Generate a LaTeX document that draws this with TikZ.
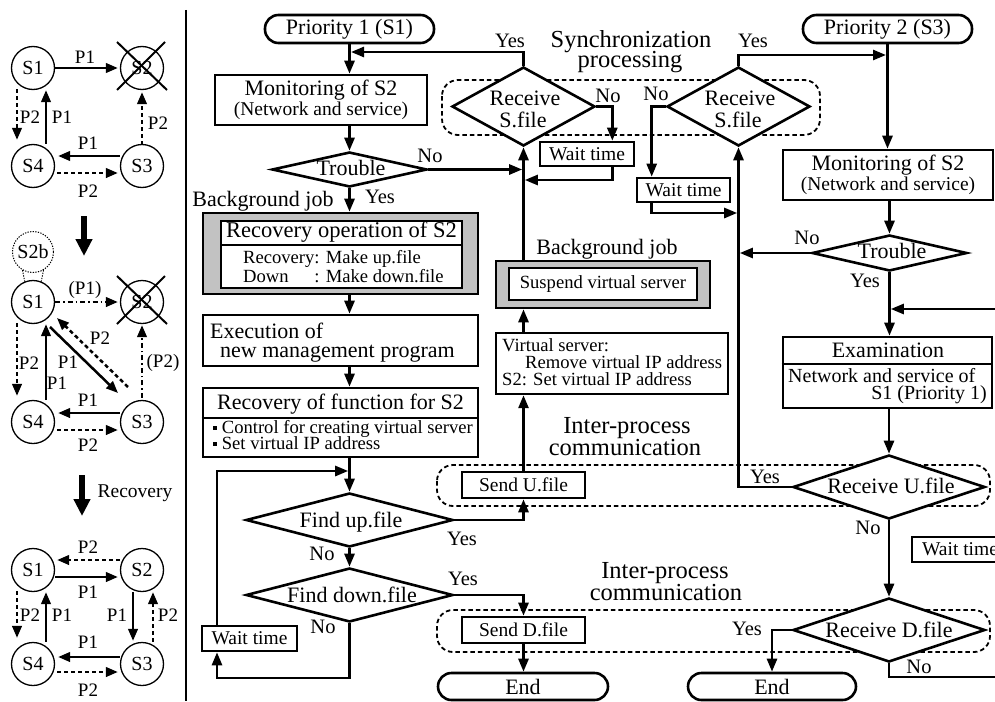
\documentclass[tikz,border=0pt]{standalone}
\usepackage{fontspec}
\setmainfont{Liberation Serif}
\usetikzlibrary{arrows.meta,shapes.geometric,calc}
\newcommand\fbig{\fontsize{22}{22}\selectfont}
\newcommand\fmid{\fontsize{19.5}{20}\selectfont}
\newcommand\fsml{\fontsize{18.6}{19}\selectfont}
\newcommand\fhead{\fontsize{24.5}{24}\selectfont}
\newcommand\fnet{\fontsize{20}{20}\selectfont}
\newcommand\fyn{\fontsize{20.5}{20}\selectfont}
\newcommand\sqbullet{\raisebox{3.5pt}{\rule{4pt}{4pt}}}
\begin{document}
\begin{tikzpicture}[x=1pt,y=-1pt,line join=miter,
  flow/.style={line width=2.6pt},
  arr/.style={flow,-{Triangle[length=13pt,width=10pt]}},
  tj/.style={arr,shorten >=1.3pt},
  box/.style={draw,line width=2.6pt,fill=white,inner sep=0pt},
  term/.style={box,rounded corners=13.5pt},
  decision/.style={diamond,draw,line width=2.6pt,fill=white,inner sep=0pt},
  jobframe/.style={box,fill=black!24},
  divider/.style={line width=1.4pt},
  group/.style={draw,line width=1.8pt,dash pattern=on 4.5pt off 3pt,rounded corners=16pt},
  ln/.style={anchor=base,inner sep=0pt},
  lnw/.style={anchor=base west,inner sep=0pt},
  lne/.style={anchor=base east,inner sep=0pt},
  snode/.style={circle,draw,line width=1.3pt,minimum size=43pt,inner sep=0pt,font=\fontsize{20}{20}\selectfont},
  parr/.style={line width=2.5pt,-{Triangle[length=12pt,width=9.5pt]}},
  pdash/.style={parr,dash pattern=on 4pt off 3pt},
  pdot/.style={parr,dash pattern=on 5pt off 3pt on 1.5pt off 3pt},
  plab/.style={inner sep=0pt,font=\fontsize{19}{19}\selectfont},
  bigarr/.style={line width=5.5pt,-{Triangle[length=17pt,width=16pt]}},
  cross/.style={line width=2pt},
]
\useasboundingbox (0,0) rectangle (995,701);
\clip (0,0) rectangle (995,701);

% ---------------- left panel: server states ----------------
\draw[line width=2.4pt] (186,10) -- (186,701);

% normal state, S2 down
\node[snode] (a1) at (33,68) {S1};
\node[snode] (a2) at (142,68) {S2};
\node[snode] (a3) at (142,166) {S3};
\node[snode] (a4) at (33,166) {S4};
\draw[cross] ($(a2)+(-25,-26)$) -- ($(a2)+(25,22)$);
\draw[cross] ($(a2)+(-25,22)$) -- ($(a2)+(23,-26)$);
\draw[parr,shorten >=2pt] (a1.east) -- (a2.west);
\node[plab] (a12) at (85,57) {P1};
\draw[pdash] ($(a1.south)+(-16,-1)$) -- ($(a4.north)+(-16,-4)$);
\node[plab] (a14) at (30,117) {P2};
\draw[parr] ($(a4.north)+(13,0)$) -- ($(a1.south)+(13,0)$);
\node[plab] (a41) at (62,117) {P1};
\draw[parr] ($(a3.west)+(0,-10)$) -- ($(a4.east)+(3,-10)$);
\node[plab] (a34) at (88,143) {P1};
\draw[pdash] ($(a4.east)+(2,7)$) -- ($(a3.west)+(-2,7)$);
\node[plab] (a43) at (88,191) {P2};
\draw[pdash] ($(a3.north)+(0,1)$) -- ($(a2.south)+(0,2)$);
\node[plab] (a32) at (158,123) {P2};

\draw[bigarr] (84,216) -- (84,256);

% S1 takes over with background job S2b
\node[snode,line width=1pt,dash pattern=on 1.3pt off 1.3pt,minimum size=41pt] (b0) at (33,252) {S2b};
\node[snode] (b1) at (33,302) {S1};
\node[snode] (b2) at (142,302) {S2};
\node[snode] (b3) at (142,422) {S3};
\node[snode] (b4) at (33,422) {S4};
\draw[line width=1pt,dash pattern=on 1.3pt off 1.3pt] (b0.240) -- (b1.112);
\draw[line width=1pt,dash pattern=on 1.3pt off 1.3pt] (b0.300) -- (b1.68);
\draw[cross] ($(b2)+(-25,-26)$) -- ($(b2)+(25,22)$);
\draw[cross] ($(b2)+(-25,22)$) -- ($(b2)+(23,-26)$);
\draw[pdot,shorten >=2pt] (b1.east) -- (b2.west);
\node[plab] (b12) at (85,290) {(P1)};
\draw[pdash] ($(b1.south)+(-16,-1)$) -- ($(b4.north)+(-16,-4)$);
\node[plab] (b14) at (29,363) {P2};
\draw[parr] ($(b4.north)+(13,0)$) -- ($(b1.south)+(13,0)$);
\node[plab] (b41) at (57,383) {P1};
\draw[parr] ($(b1)+(17,25)$) -- ($(b3)+(-24,-29)$);
\node[plab] (b13) at (68,362) {P1};
\draw[pdash] ($(b3)+(-14,-35)$) -- ($(b1)+(24,16)$);
\node[plab] (b31) at (100,338) {P2};
\draw[parr] ($(b3.west)+(0,-9)$) -- ($(b4.east)+(3,-9)$);
\node[plab] (b34) at (88,400) {P1};
\draw[pdash] ($(b4.east)+(2,8)$) -- ($(b3.west)+(-2,8)$);
\node[plab] (b43) at (88,445) {P2};
\draw[pdot] ($(b3.north)+(0,-2)$) -- ($(b2.south)+(0,1)$);
\node[plab] (b32) at (163,363) {(P2)};

\draw[bigarr] (82,475) -- (82,516);
\node[ln,font=\fontsize{19.5}{20}\selectfont] (rectxt) at (135,497) {Recovery};

% after recovery
\node[snode] (c1) at (33,570) {S1};
\node[snode] (c2) at (142,570) {S2};
\node[snode] (c3) at (142,664) {S3};
\node[snode] (c4) at (33,664) {S4};
\draw[pdash] ($(c2.west)+(0,-10)$) -- ($(c1.east)+(2,-10)$);
\node[plab] (c21) at (88,547) {P2};
\draw[parr] ($(c1.east)+(0,7)$) -- ($(c2.west)+(-2,7)$);
\node[plab] (c12) at (88,592) {P1};
\draw[pdash] ($(c1.south)+(-16,-1)$) -- ($(c4.north)+(-16,-4)$);
\node[plab] (c14) at (30,615) {P2};
\draw[parr] ($(c4.north)+(13,0)$) -- ($(c1.south)+(13,0)$);
\node[plab] (c41) at (62,615) {P1};
\draw[parr] ($(c2.south)+(-9,0)$) -- ($(c3.north)+(-9,-1)$);
\node[plab] (c23) at (117,615) {P1};
\draw[pdash] ($(c3.north)+(11,0)$) -- ($(c2.south)+(11,0)$);
\node[plab] (c32) at (168,615) {P2};
\draw[parr] ($(c3.west)+(0,-7)$) -- ($(c4.east)+(3,-7)$);
\node[plab] (c34) at (88,642) {P1};
\draw[pdash] ($(c4.east)+(2,8)$) -- ($(c3.west)+(-2,8)$);
\node[plab] (c43) at (88,690) {P2};

% ---------------- flowchart ----------------
\draw[group] (442,80) rectangle (820,135);
\draw[group] (437,465) rectangle (990,506);
\draw[group] (437,610) rectangle (990,652);

% Priority 1 side
\node[term,minimum width=169pt,minimum height=28pt,font=\fbig] (p1) at (349.5,29) {Priority 1 (S1)};
\node[box,minimum width=212pt,minimum height=50pt] (m1) at (321,100) {};
\node[ln,font=\fbig] (m1a) at (321,95) {Monitoring of S2};
\node[ln,font=\fmid] (m1b) at (321,115) {(Network and service)};
\node[decision,minimum width=155pt,minimum height=35pt] (tr1) at (349.5,169.5) {};
\node[ln,font=\fbig] (tr1t) at (351,175) {Trouble};

\node[jobframe,minimum width=275pt,minimum height=81pt] (rec) at (340.5,253.5) {};
\node[box,line width=1.8pt,minimum width=241pt,minimum height=67pt] (reci) at (341.5,254.5) {};
\draw[divider] (reci.west |- 0,245) -- (reci.east |- 0,245);
\node[ln,font=\fontsize{22.5}{22}\selectfont] (rect) at (341.5,237) {Recovery operation of S2};
\node[anchor=north west,inner sep=0pt,font=\fsml] (recb) at (243,249.7)
  {\begin{tabular}{@{}l@{}l@{}}Recovery&: Make up.file\\Down&: Make down.file\end{tabular}};

\node[box,minimum width=275pt,minimum height=51pt] (exe) at (340.5,340.5) {};
\node[lnw,font=\fbig] (exea) at (210,338) {Execution of};
\node[lnw,font=\fbig] (exeb) at (220,357) {new management program};

\node[box,minimum width=275pt,minimum height=69pt] (rfn) at (340.5,422.5) {};
\draw[divider] (rfn.west |- 0,418) -- (rfn.east |- 0,418);
\node[ln,font=\fbig] (rfnt) at (340.5,409) {Recovery of function for S2};
\node[lnw,font=\fsml] (rfn1) at (213,433) {\sqbullet\ Control for creating virtual server};
\node[lnw,font=\fsml] (rfn2) at (213,449) {\sqbullet\ Set virtual IP address};

\node[decision,minimum width=207pt,minimum height=54pt] (fup) at (349.5,520) {};
\node[ln,font=\fbig] (fupt) at (351,527) {Find up.file};
\node[decision,minimum width=207pt,minimum height=54pt] (fdn) at (349.5,595) {};
\node[ln,font=\fbig] (fdnt) at (352,602) {Find down.file};
\node[box,minimum width=95pt,minimum height=25pt,font=\fmid] (wt1) at (249.5,638.5) {Wait time};

\node[box,minimum width=123pt,minimum height=26pt,font=\fmid] (sdu) at (523.5,485) {Send U.file};
\node[box,minimum width=123pt,minimum height=26pt,font=\fmid] (sdd) at (523.5,630) {Send D.file};
\node[term,minimum width=170pt,minimum height=27pt,font=\fbig] (end1) at (523,686.5) {End};

\node[box,line width=2.4pt,minimum width=232pt,minimum height=61pt] (vs) at (612,363.5) {};
\node[lnw,font=\fsml] (vs1) at (502,351) {Virtual server:};
\node[lnw,font=\fsml] (vs2) at (525,368) {Remove virtual IP address};
\node[lnw,font=\fsml] (vs3) at (502,385) {S2: Set virtual IP address};

\node[jobframe,minimum width=214pt,minimum height=47pt] (sus) at (603,284.5) {};
\node[box,minimum width=188pt,minimum height=32pt,font=\fsml] (susi) at (603,284) {Suspend virtual server};

% synchronization
\node[decision,minimum width=143pt,minimum height=79pt] (rs1) at (523.5,106.5) {};
\node[ln,font=\fbig] (rs1a) at (525,105) {Receive};
\node[ln,font=\fbig] (rs1b) at (523,127) {S.file};
\node[box,minimum width=94pt,minimum height=24pt,font=\fmid] (wt2) at (587,154) {Wait time};
\node[decision,minimum width=143pt,minimum height=79pt] (rs2) at (738.5,106.5) {};
\node[ln,font=\fbig] (rs2a) at (740,105) {Receive};
\node[ln,font=\fbig] (rs2b) at (738,127) {S.file};
\node[box,minimum width=93pt,minimum height=24pt,font=\fmid] (wt3) at (683.5,190) {Wait time};

% Priority 2 side
\node[term,minimum width=169pt,minimum height=28pt,font=\fbig] (p2) at (887.5,29) {Priority 2 (S3)};
\node[box,minimum width=210pt,minimum height=50pt] (m2) at (888,175) {};
\node[ln,font=\fbig] (m2a) at (888,170) {Monitoring of S2};
\node[ln,font=\fmid] (m2b) at (888,190) {(Network and service)};
\node[decision,minimum width=155pt,minimum height=36pt] (tr2) at (889.5,253) {};
\node[ln,font=\fbig] (tr2t) at (892,258) {Trouble};
\node[box,minimum width=209pt,minimum height=71pt] (exam) at (887.5,372.5) {};
\draw[divider] (exam.west |- 0,364) -- (exam.east |- 0,364);
\node[ln,font=\fbig] (examt) at (888,357) {Examination};
\node[lnw,font=\fnet] (exam1) at (788,382) {Network and service of};
\node[lne,font=\fnet] (exam2) at (987,399) {S1 (Priority 1)};
\node[decision,minimum width=192pt,minimum height=64pt] (ru) at (889,487) {};
\node[ln,font=\fbig] (rut) at (891,493) {Receive U.file};
\node[decision,minimum width=192pt,minimum height=64pt] (rd) at (889,630) {};
\node[ln,font=\fbig] (rdt) at (889,637) {Receive D.file};
\node[box,minimum width=96pt,minimum height=25pt,font=\fmid] (wt4) at (960,549.5) {Wait time};
\node[term,minimum width=168pt,minimum height=27pt,font=\fbig] (end2) at (772,686.5) {End};

% free ends at the right border
\coordinate (rin) at (1000,309);
\coordinate (rout) at (1000,677);
\coordinate (lb) at (217,678);
\coordinate (lt) at (217,471);
\coordinate (y1) at (351,52);
\coordinate (y2) at (886,55);
\coordinate (w2r) at (523.5,180);
\coordinate (w3r) at (738.5,213);

% connectors, Priority 1
\draw[arr] (p1.south) -- (p1.south |- m1.north);
\draw[arr] (tr1.north |- m1.south) -- (tr1.north);
\draw[arr] (tr1.south) -- (tr1.south |- rec.north);
\draw[tj] (tr1.east) -- (tr1.east -| rs1.south);
\draw[arr] (tr1 |- rec.south) -- (tr1 |- exe.north);
\draw[arr] (tr1 |- exe.south) -- (tr1 |- rfn.north);
\draw[arr] (fup |- rfn.south) -- (fup.north);
\draw[arr] (fup.south) -- (fdn.north);
\draw[arr] (fup.east) -| (sdu.south);
\draw[arr] (fdn.east) -| (sdd.north);
\draw[arr] (fdn.south) |- (lb) -- (lb |- wt1.south);
\draw[tj] (lt |- wt1.north) -- (lt) -- (lt -| fup.north);
\draw[arr] (sdu.north) -- (sdu.north |- vs.south);
\draw[arr] (sdu.north |- vs.north) -- (sdu.north |- sus.south);
\draw[arr] (rs1.south |- sus.north) -- (rs1.south);
\draw[arr] (sdd.south) -- (sdd.south |- end1.north);

% connectors, synchronization
\draw[arr] (rs1.north) |- (y1);
\draw[arr] (rs1.east) -| ($(wt2.north east)+(-23,0)$);
\draw[tj] ($(wt2.south east)+(-23,0)$) |- (w2r);
\draw[arr] (rs2.north) |- (y2);
\draw[arr] (rs2.west) -| ($(wt3.north west)+(16,0)$);
\draw[tj] ($(wt3.south west)+(16,0)$) |- (w3r);

% connectors, Priority 2
\draw[arr] (p2.south) -- (p2.south |- m2.north);
\draw[arr] (tr2.north |- m2.south) -- (tr2.north);
\draw[tj] (tr2.west) -- (tr2.west -| rs2.south);
\draw[arr] (tr2.south) -- (tr2.south |- exam.north);
\draw[tj] (rin) -- (rin -| tr2.south);
\draw[arr] (ru.north |- exam.south) -- (ru.north);
\draw[arr] (ru.west) -| (rs2.south);
\draw[arr] (ru.south) -- (rd.north);
\draw[arr] (rd.west) -| (end2.north);
\draw[flow] (rd.south) |- (rout);

% branch labels
\node[ln,font=\fyn] (n1) at (430,162) {No};
\node[ln,font=\fyn] (y1t) at (380,203) {Yes};
\node[ln,font=\fbig] (bj1) at (263,206) {Background job};
\node[ln,font=\fbig] (bj2) at (607,254) {Background job};
\node[ln,font=\fyn] (y2t) at (510,48) {Yes};
\node[ln,font=\fyn] (n2) at (608,102) {No};
\node[ln,font=\fyn] (n3) at (656,100) {No};
\node[ln,font=\fyn] (y3t) at (753,48) {Yes};
\node[ln,font=\fyn] (n4) at (807,244) {No};
\node[ln,font=\fyn] (y4t) at (865,287) {Yes};
\node[ln,font=\fyn] (y5t) at (462,545) {Yes};
\node[ln,font=\fyn] (n5) at (322,560) {No};
\node[ln,font=\fyn] (y6t) at (463,585) {Yes};
\node[ln,font=\fyn] (n6) at (323,633) {No};
\node[ln,font=\fyn] (y7t) at (765,483) {Yes};
\node[ln,font=\fyn] (n7) at (868,534) {No};
\node[ln,font=\fyn] (y8t) at (747,635) {Yes};
\node[ln,font=\fyn] (n8) at (919,673) {No};

% group titles
\node[ln,font=\fhead] (sy1) at (631,48) {Synchronization};
\node[ln,font=\fhead] (sy2) at (630,67) {processing};
\node[ln,font=\fhead] (ip1) at (627,433) {Inter-process};
\node[ln,font=\fhead] (ip2) at (625,455) {communication};
\node[ln,font=\fhead] (ip3) at (665,578) {Inter-process};
\node[ln,font=\fhead] (ip4) at (666,600) {communication};
\end{tikzpicture}
\end{document}
